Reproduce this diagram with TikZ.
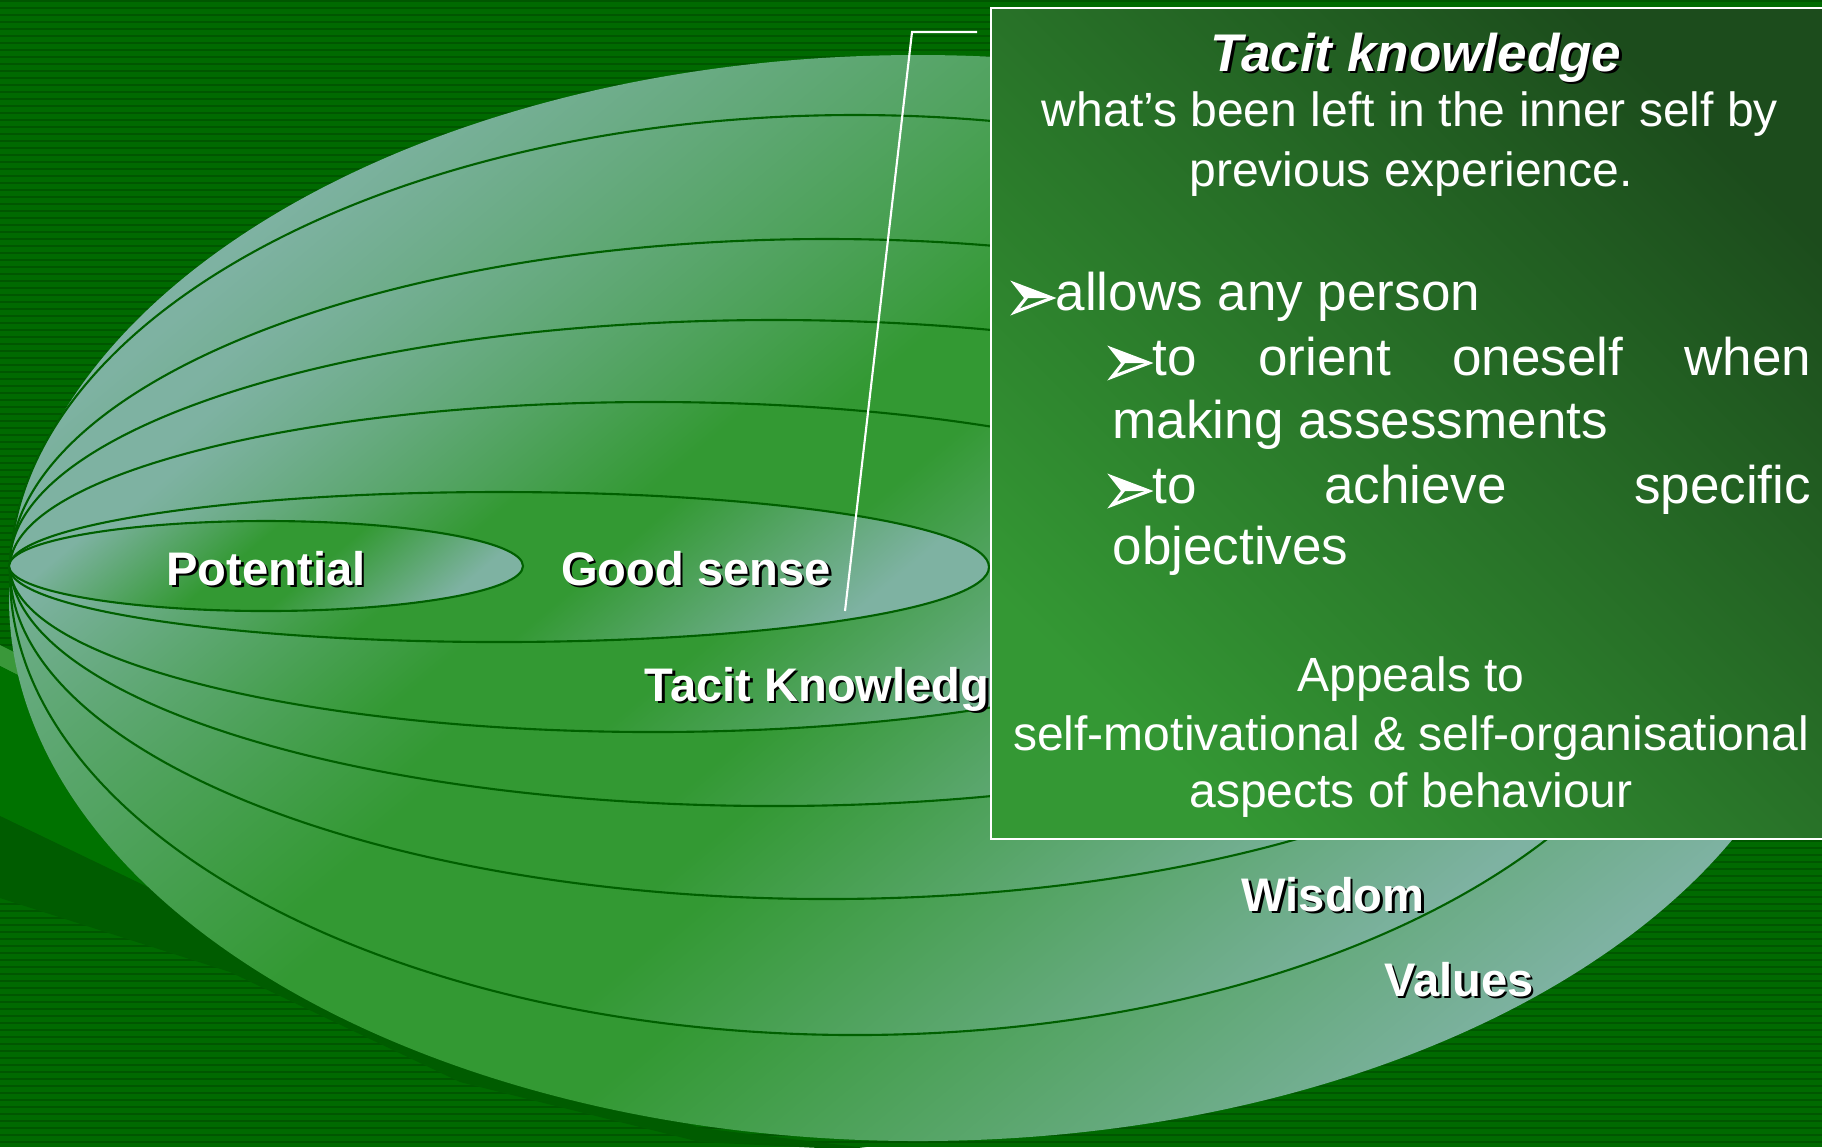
\documentclass[tikz,border=0pt]{standalone}
\usepackage{fontspec}
\setmainfont{Liberation Sans}
\usepackage{xcolor}
\usetikzlibrary{calc}

\definecolor{bggreen}{RGB}{0,106,0}
\definecolor{bgstripe}{RGB}{0,86,0}
\definecolor{swooshA}{RGB}{58,152,58}
\definecolor{swooshB}{RGB}{0,114,0}
\definecolor{swooshC}{RGB}{0,92,0}
\definecolor{ringlight}{RGB}{126,178,162}
\definecolor{ringgreen}{RGB}{51,153,51}
\definecolor{ringline}{RGB}{0,96,0}
\definecolor{boxgreen}{RGB}{52,152,52}
\definecolor{boxdark}{RGB}{28,76,28}

\pgfdeclareverticalshading{ringshade}{100bp}{color(0bp)=(ringlight); color(25bp)=(ringlight); color(44bp)=(ringgreen); color(54bp)=(ringgreen); color(75bp)=(ringlight); color(100bp)=(ringlight)}

\tikzstyle{ring}=[draw=ringline, line width=0.6pt, shading=ringshade, shading angle=40]
\tikzstyle{lbl}=[text=white, inner sep=0pt, anchor=base, font=\bfseries\fontsize{13.4}{16}\selectfont]
\tikzstyle{lblshadow}=[lbl, text=black]
\tikzstyle{boxtext}=[text=white, inner sep=0pt, anchor=base, font=\fontsize{13.66}{16}\selectfont]
\tikzstyle{bullettext}=[text=white, inner sep=0pt, anchor=base west, font=\fontsize{15.08}{18}\selectfont]

\begin{document}
\begin{tikzpicture}[x=0.01cm, y=-0.01cm]
	\useasboundingbox (0,0) rectangle (1822,1147);
	\clip (0,0) rectangle (1822,1147);

	\fill[bggreen] (0,0) rectangle (1822,1147);%background
	\foreach \y in {0,7,...,1147}
		\fill[bgstripe] (0,\y) rectangle (1822,\y+2);%stripes

	\fill[swooshA] (0,645) -- (300,795) -- (300,820) -- (0,666) -- cycle;%swooshes
	\fill[swooshB] (0,666) -- (400,866) -- (400,1010) -- (0,816) -- cycle;
	\fill[swooshC] (0,816) -- (460,1037) -- (700,1128) -- (900,1152) -- (700,1142) -- (460,1082) -- (230,972) -- (0,898) -- cycle;

	\shade[ring, draw=none] (918,598) ellipse (909 and 543);%values
	\shade[ring] (855,575) ellipse (845 and 460);%wisdom
	\shade[ring] (827,569) ellipse (817 and 330);
	\shade[ring] (774,563) ellipse (764 and 243);
	\shade[ring] (653,567) ellipse (643 and 165);%tacit knowledge
	\shade[ring] (499,567) ellipse (490 and 75);%good sense
	\shade[ring] (266,566) ellipse (257 and 45);%potential

	\node[lblshadow] (pot-s) at (268.5,587.5) {Potential};
	\node[lbl] (pot) at (266,585) {Potential};
	\node[lblshadow] (good-s) at (698.5,587.5) {Good sense};
	\node[lbl] (good) at (696,585) {Good sense};
	\node[lblshadow, anchor=base west] (tacit-s) at (646.5,703.5) {Tacit Knowledge};
	\node[lbl, anchor=base west] (tacit) at (644,701) {Tacit Knowledge};
	\node[lblshadow] (wis-s) at (1335.5,913.5) {Wisdom};
	\node[lbl] (wis) at (1333,911) {Wisdom};
	\node[lblshadow] (val-s) at (1461.5,998.5) {Values};
	\node[lbl] (val) at (1459,996) {Values};

	\coordinate (lead-a) at (977,32);
	\coordinate (lead-b) at (912,32);
	\coordinate (lead-c) at (845,611);
	\draw[white, line width=0.6pt] (lead-a) -- (lead-b) -- (lead-c);%callout

	\draw[white, line width=0.7pt, top color=boxdark, bottom color=boxgreen, shading angle=-45] (991,8) rectangle (1835,839);%text box

	\node[boxtext, text=black, font=\bfseries\itshape\fontsize{15.08}{18}\selectfont] (head-s) at (1418.5,73.5) {Tacit knowledge};
	\node[boxtext, font=\bfseries\itshape\fontsize{15.08}{18}\selectfont] (head) at (1416,71) {Tacit knowledge};
	\node[boxtext] (sub1) at (1410,126) {what’s been left in the inner self by};
	\node[boxtext] (sub2) at (1411,186) {previous experience.};

	\foreach \bx/\by in {1015/310, 1112/375, 1112/503}{
		\fill[white] (\bx,\by-26) -- (\bx+37,\by-12) -- (\bx+11,\by-12) -- cycle;
		\draw[white, line width=0.9pt, line join=miter] (\bx,\by-26) -- (\bx+37,\by-12) -- (\bx,\by+2) -- (\bx+11,\by-12) -- cycle;
	}%bullet arrows

	\node[bullettext] (b1) at (1055,310) {allows any person};
	\node[bullettext] (b2) at (1152,375) {\makebox[6.58cm][s]{to orient oneself when}};
	\node[bullettext] (b2b) at (1112,438) {making assessments};
	\node[bullettext] (b3) at (1152,503) {\makebox[6.58cm][s]{to achieve specific}};
	\node[bullettext] (b3b) at (1112,564) {objectives};

	\node[boxtext] (app1) at (1411,691) {Appeals to};
	\node[boxtext] (app2) at (1411,750) {self-motivational \& self-organisational};
	\node[boxtext] (app3) at (1411,807) {aspects of behaviour};
\end{tikzpicture}
\end{document}
